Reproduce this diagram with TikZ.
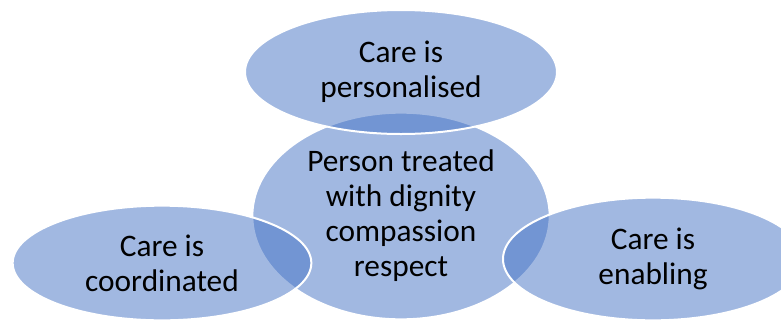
\documentclass[tikz,border=0pt]{standalone}
\usepackage{fontspec}
\setmainfont{Carlito}
\usetikzlibrary{shapes.geometric}

\definecolor{Accent}{HTML}{4472C4}
\tikzstyle{Venn} = [draw=white,
                    line width=1.5pt,
                    ellipse,
                    fill=Accent,
                    fill opacity=0.5,
                    text opacity=1,
                    align=center,
                    inner sep=0pt,
                    font=\fontsize{23.5}{26.3}\selectfont]

\begin{document}
\begin{tikzpicture}[x=0.75pt, y=-0.75pt]

    \useasboundingbox (0, 0) rectangle (781, 322);

    % Centre ellipse
    \node (dignity) at (401, 216) [Venn, minimum width=223pt, minimum height=155pt]{Person treated\\ with dignity\\ compassion\\ respect};

    % Outer ellipses
    \node (personalised) at (401, 72) [Venn, minimum width=234pt, minimum height=93pt]{Care is\\ personalised};
    \node (coordinated) at (162, 263) [Venn, minimum width=224pt, minimum height=86pt]{Care is\\ coordinated};
    \node (enabling) at (653, 259) [Venn, minimum width=225pt, minimum height=92pt]{Care is\\ enabling};

\end{tikzpicture}
\end{document}
